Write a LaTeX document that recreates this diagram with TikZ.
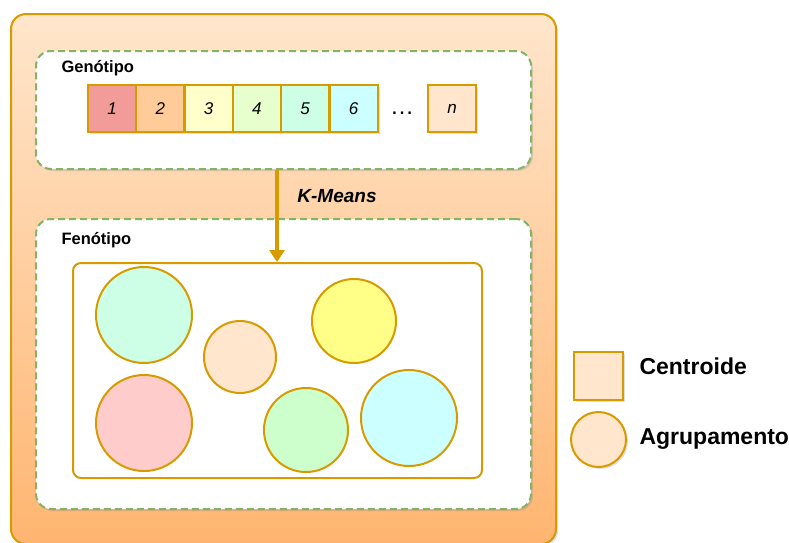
\documentclass[tikz,border=0pt]{standalone}
\usepackage{fontspec}
\setmainfont{Liberation Sans}
\usetikzlibrary{arrows.meta,shadows,calc}
\definecolor{ostroke}{HTML}{D79B00}
\definecolor{gstroke}{HTML}{82B366}
\definecolor{peach}{HTML}{FFE6CC}
\definecolor{orangebot}{HTML}{FFB570}
\definecolor{cA}{HTML}{F19C99}
\definecolor{cB}{HTML}{FFCC99}
\definecolor{cC}{HTML}{FFFFCC}
\definecolor{cD}{HTML}{E6FFCC}
\definecolor{cE}{HTML}{CCFFE6}
\definecolor{cF}{HTML}{CCFFFF}
\definecolor{cYel}{HTML}{FFFF88}
\definecolor{cPink}{HTML}{FFCCCC}
\definecolor{cGreen}{HTML}{CCFFCC}
\tikzset{
  shad/.style={drop shadow={opacity=0.25,shadow xshift=2pt,shadow yshift=-2pt}},
  outerbox/.style={draw=ostroke,line width=2pt,rounded corners=15pt,top color=peach,bottom color=orangebot,shad},
  dashbox/.style={draw=gstroke,line width=2pt,dash pattern=on 7pt off 4pt,rounded corners=15pt,fill=white,shad},
  cell/.style={draw=ostroke,line width=2pt,minimum width=48pt,minimum height=47pt,inner sep=0pt,font=\fontsize{17}{20}\selectfont\itshape,shad},
  clus/.style={draw=ostroke,line width=2pt,circle,inner sep=0pt},
  lbl/.style={font=\fontsize{16.5}{19}\selectfont\bfseries,anchor=west},
  leg/.style={font=\fontsize{23}{27}\selectfont\bfseries,anchor=west},
  flow/.style={draw=ostroke,line width=3.5pt,-{Triangle[width=15pt,length=12pt]}}
}
\begin{document}
\begin{tikzpicture}[x=1pt,y=-1pt]
\useasboundingbox (0,0) rectangle (789,542);
\node[outerbox,minimum width=545pt,minimum height=530pt,anchor=north west] (outer) at (10,13) {};
\node[dashbox,minimum width=495pt,minimum height=118pt,anchor=north west] (geno) at (35,50) {};
\node[lbl] (genolbl) at (58,68) {Genótipo};
\node[cell,fill=cA] (c1) at (112,108.5) {1};
\node[cell,fill=cB] (c2) at (160.3,108.5) {2};
\node[cell,fill=cC] (c3) at (208.6,108.5) {3};
\node[cell,fill=cD] (c4) at (256.9,108.5) {4};
\node[cell,fill=cE] (c5) at (305.2,108.5) {5};
\node[cell,fill=cF] (c6) at (353.5,108.5) {6};
\node[font=\fontsize{24}{26}\selectfont] (dots) at (402,113) {\dots};
\node[cell,fill=peach] (cn) at (452,108.5) {n};
\node[dashbox,minimum width=495pt,minimum height=290pt,anchor=north west] (feno) at (35,218) {};
\node[lbl] (fenolbl) at (58,240) {Fenótipo};
\node[draw=ostroke,line width=2pt,rounded corners=8pt,fill=white,minimum width=409pt,minimum height=215pt,anchor=north west] (inner) at (72,262) {};
\draw[flow] (geno.south -| 277,0) -- (inner.north -| 277,0);
\node[font=\fontsize{19}{22}\selectfont\bfseries\itshape] (km) at (337,196) {K-Means};
\node[clus,fill=cE,minimum size=96pt] (k1) at (144,315) {};
\node[clus,fill=peach,minimum size=72pt] (k2) at (240,357) {};
\node[clus,fill=cYel,minimum size=84pt] (k3) at (354,321) {};
\node[clus,fill=cPink,minimum size=96pt] (k4) at (144,423) {};
\node[clus,fill=cGreen,minimum size=84pt] (k5) at (306,430) {};
\node[clus,fill=cF,minimum size=96pt] (k6) at (409,418) {};
\node[draw=ostroke,line width=2pt,fill=peach,minimum width=49pt,minimum height=48pt,inner sep=0pt,shad] (legsq) at (598.5,376) {};
\node[leg] (legsqt) at (636,366) {Centroide};
\node[clus,fill=peach,minimum size=55pt,shad] (legci) at (598.5,439.5) {};
\node[leg] (legcit) at (636,439) {Agrupamento};
\end{tikzpicture}
\end{document}
